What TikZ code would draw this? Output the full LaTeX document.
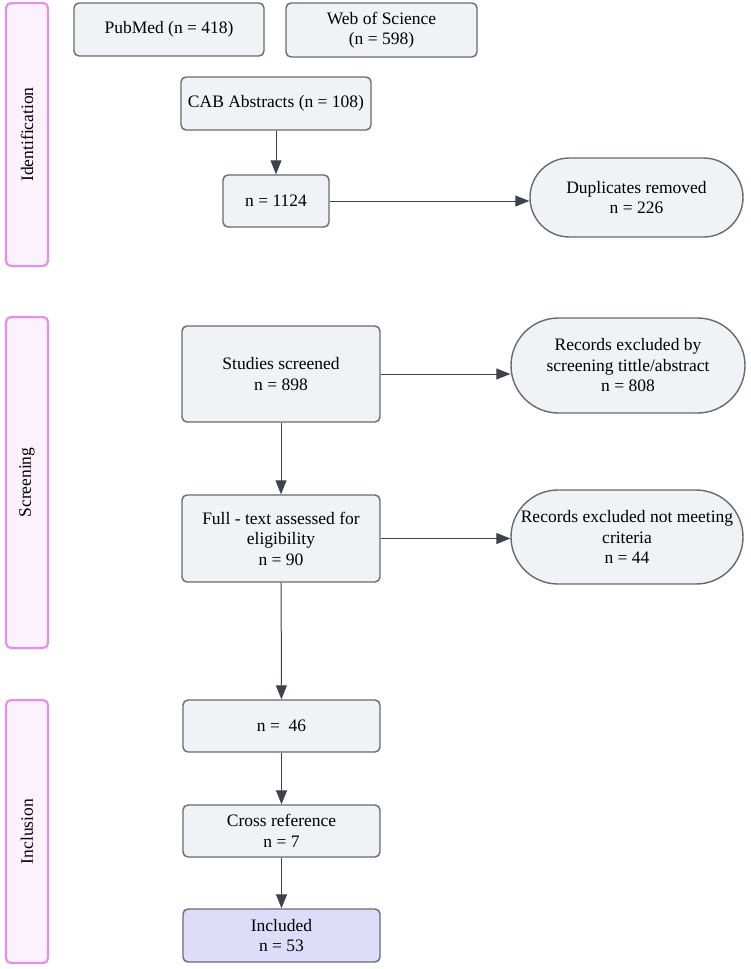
\documentclass[tikz,border=0pt]{standalone}
\usepackage{fontspec}
\setmainfont{Liberation Serif}
\usepackage{xcolor}
\usepackage{tikz}
\usetikzlibrary{arrows.meta,shapes.misc}

\definecolor{boxfill}{RGB}{241,242,245}
\definecolor{boxline}{RGB}{102,106,113}
\definecolor{phasefill}{RGB}{250,242,252}
\definecolor{phaseline}{RGB}{228,143,236}
\definecolor{inclfill}{RGB}{221,221,250}
\definecolor{arrowcol}{RGB}{62,66,74}

\tikzset{
    stagebox/.style={draw=boxline, fill=boxfill, line width=1.4pt, rounded corners=5pt,
        align=center, inner sep=2pt, font=\fontsize{17.5}{20.5}\selectfont},
    pillbox/.style={draw=boxline, fill=boxfill, line width=1.4pt, rounded rectangle,
        align=center, inner sep=2pt, font=\fontsize{17.5}{20.5}\selectfont},
    phasebox/.style={draw=phaseline, fill=phasefill, line width=2.2pt, rounded corners=5pt,
        minimum width=42pt},
    phaselabel/.style={rotate=90, font=\fontsize{17.5}{20.5}\selectfont},
    flow/.style={draw=arrowcol, line width=1pt, -{Triangle[length=14pt,width=11pt]}}
}

\begin{document}
\begin{tikzpicture}[x=1pt,y=-1pt]
        \useasboundingbox (0,0) rectangle (750,969);

        % The phase bars
        \node (ident) [phasebox, minimum height=263pt] at (27,134.5) {};
        \node [phaselabel] at (ident.center) {Identification};
        \node (screen) [phasebox, minimum height=331pt] at (27,482.5) {};
        \node [phaselabel] at (screen.center) {Screening};
        \node (incl) [phasebox, minimum height=263pt] at (27,831.5) {};
        \node [phaselabel] at (incl.center) {Inclusion};

        % The database boxes
        \node (pubmed) [stagebox, minimum width=190pt, minimum height=53pt] at (169,29.5) {PubMed (n = 418)};
        \node (wos) [stagebox, minimum width=191pt, minimum height=54pt] at (381.5,30) {Web of Science\\(n = 598)};
        \node (cab) [stagebox, minimum width=190pt, minimum height=53pt] at (276,103.5) {CAB Abstracts (n = 108)};
        \node (total) [stagebox, minimum width=106pt, minimum height=52pt] at (276,201) {n = 1124};
        \node (dup) [pillbox, minimum width=217pt, minimum height=79pt] at (636.5,197.5) {Duplicates removed\\n = 226};

        % The screening boxes
        \node (screened) [stagebox, minimum width=198pt, minimum height=96pt] at (281,374) {Studies screened\\n = 898};
        \node (exclA) [pillbox, minimum width=238pt, minimum height=95pt] at (628,365.5) {Records excluded by\\screening tittle/abstract\\n = 808};
        \node (fulltext) [stagebox, minimum width=198pt, minimum height=87pt] at (281,538.5) {Full - text assessed for\\eligibility\\n = 90};
        \node (exclB) [pillbox, minimum width=236pt, minimum height=94pt] at (627,537) {Records excluded not meeting\\criteria\\n = 44};

        % The inclusion boxes
        \node (kept) [stagebox, minimum width=197pt, minimum height=52pt] at (281.5,726) {n = ~46};
        \node (crossref) [stagebox, minimum width=197pt, minimum height=52pt] at (281.5,831) {Cross reference\\n = 7};
        \node (included) [stagebox, fill=inclfill, minimum width=197pt, minimum height=53pt] at (281.5,935.5) {Included\\n = 53};

        % The arrows
        \draw[flow] (cab) -- (total);
        \draw[flow] (total.east) -- (total.east -| dup.west);
        \draw[flow] (screened.south) -- (fulltext.north);
        \draw[flow] (screened.east) -- (screened.east -| exclA.west);
        \draw[flow] (fulltext.east) -- (fulltext.east -| exclB.west);
        \draw[flow] (fulltext) -- (kept);
        \draw[flow] (kept) -- (crossref);
        \draw[flow] (crossref) -- (included);

    \end{tikzpicture}
\end{document}
